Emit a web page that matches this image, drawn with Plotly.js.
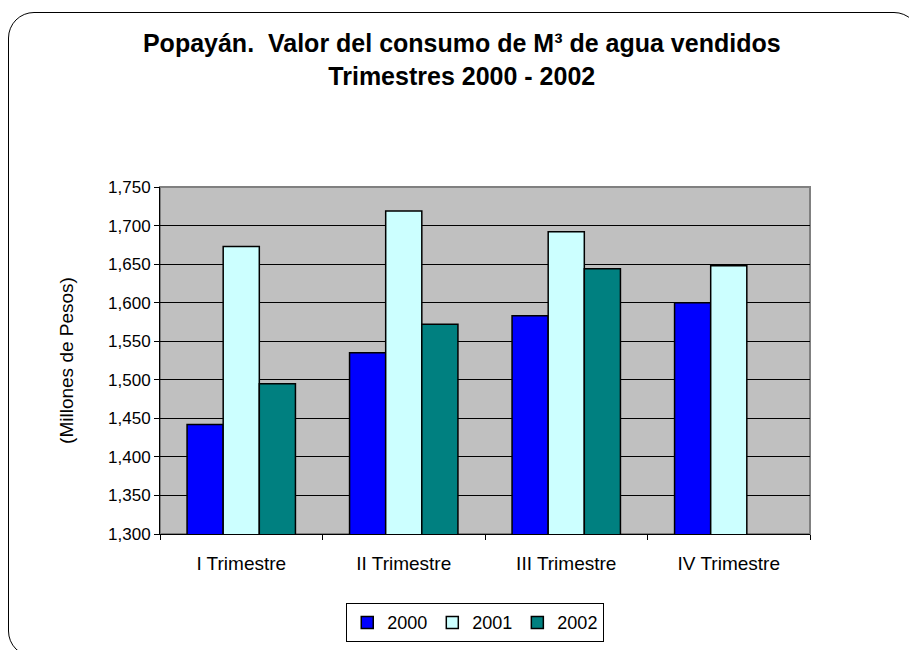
<!DOCTYPE html>
<html>
<head>
<meta charset="utf-8">
<script src="https://cdn.plot.ly/plotly-3.0.1.min.js"></script>
<style>
  html, body { margin: 0; padding: 0; background: #fff; overflow: hidden; }
  #wrap { position: relative; width: 909px; height: 650px; overflow: hidden; }
  #chart { width: 909px; height: 650px; }
  #frame { position: absolute; left: 8px; top: 12px; width: 912px; height: 645px;
           border: 1.5px solid #000; border-radius: 26px; pointer-events: none; box-sizing: border-box; }
</style>
</head>
<body>
<div id="wrap">
  <div id="chart"></div>
  <div id="frame"></div>
</div>
<script>
const categories = ["I Trimestre", "II Trimestre", "III Trimestre", "IV Trimestre"];
const seriesNames = ["2000", "2001", "2002"];
const values2000 = [1442, 1535, 1583, 1600];
const values2001 = [1673, 1719, 1692, 1648];
const values2002 = [1495, 1572, 1644, null];
const seriesColors = ["#0000ff", "#ccffff", "#008080"];
const yTickVals = [1300, 1350, 1400, 1450, 1500, 1550, 1600, 1650, 1700, 1750];

const allValues = [values2000, values2001, values2002];
const traces = allValues.map((vals, i) => ({
  type: "bar",
  name: seriesNames[i],
  x: categories,
  y: vals,
  marker: { color: seriesColors[i], line: { color: "#000", width: 1.5 } },
  hoverinfo: "x+y+name"
}));

const font = "Arial, 'Liberation Sans', sans-serif";
const layout = {
  width: 909, height: 650,
  margin: { l: 160, r: 99, t: 187, b: 116, pad: 0, autoexpand: false },
  paper_bgcolor: "#ffffff",
  plot_bgcolor: "#c0c0c0",
  barmode: "group",
  bargap: 0.333,
  bargroupgap: 0,
  font: { family: font, size: 17, color: "#000" },
  title: {
    text: "<b>Popayán.&nbsp; Valor del consumo de M³ de agua vendidos<br>Trimestres 2000 - 2002</b>",
    font: { family: font, size: 25, color: "#000" },
    x: 0.508, xanchor: "center", xref: "container",
    y: 0.92, yanchor: "top", yref: "container"
  },
  xaxis: {
    type: "category",
    showline: true, linecolor: "#000", linewidth: 1,
    ticks: "outside", ticklen: 5, tickcolor: "#000", tickson: "boundaries",
    tickfont: { family: font, size: 19, color: "#000" },
    ticklabelstandoff: 12,
    showgrid: false, zeroline: false,
    fixedrange: true
  },
  yaxis: {
    range: [1300, 1750],
    tickvals: yTickVals,
    tickformat: ",d",
    showline: true, linecolor: "#000", linewidth: 1,
    ticks: "outside", ticklen: 5, tickcolor: "#000",
    tickfont: { family: font, size: 17, color: "#000" },
    showgrid: true, gridcolor: "#000", gridwidth: 1,
    zeroline: false,
    title: { text: "(Millones de Pesos)", font: { family: font, size: 19, color: "#000" }, standoff: 29 },
    fixedrange: true
  },
  legend: {
    orientation: "h",
    x: 0.485, xanchor: "center",
    y: 0.072, yanchor: "top", yref: "container",
    bordercolor: "#000", borderwidth: 1,
    bgcolor: "#fff",
    font: { family: font, size: 18, color: "#000" },
    itemwidth: 30,
    traceorder: "normal"
  },
  shapes: [{
    type: "rect", xref: "paper", yref: "paper", x0: 0, x1: 1, y0: 0, y1: 1,
    line: { color: "#808080", width: 2 }, layer: "below", fillcolor: "rgba(0,0,0,0)"
  }],
  showlegend: true
};

Plotly.newPlot("chart", traces, layout, { displayModeBar: false, staticPlot: true });
</script>
</body>
</html>
